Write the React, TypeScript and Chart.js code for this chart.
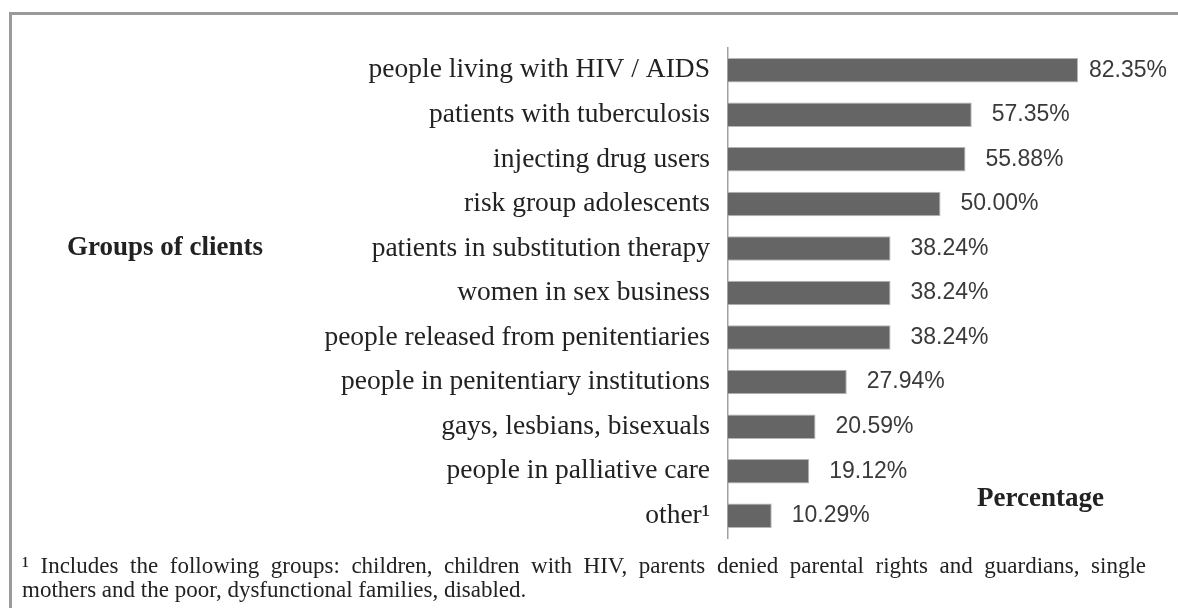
import React, { useEffect, useRef } from "react";
import { Chart, registerables } from "chart.js";

Chart.register(...registerables);

const categories = [
  "people living with HIV / AIDS",
  "patients with tuberculosis",
  "injecting drug users",
  "risk group adolescents",
  "patients in substitution therapy",
  "women in sex business",
  "people released from penitentiaries",
  "people in penitentiary institutions",
  "gays, lesbians, bisexuals",
  "people in palliative care",
  "other\u00B9",
];
const values = [82.35, 57.35, 55.88, 50.0, 38.24, 38.24, 38.24, 27.94, 20.59, 19.12, 10.29];
const yAxisTitle = "Groups of clients";
const xAxisTitle = "Percentage";
const footnoteLines = [
  "\u00B9 Includes the following groups: children, children with HIV, parents denied parental rights and guardians, single",
  "mothers and the poor, dysfunctional families, disabled.",
];

const SERIF = "'Liberation Serif', 'Times New Roman', serif";
const SANS = "'Liberation Sans', Arial, sans-serif";

function drawJustified(ctx: CanvasRenderingContext2D, text: string, x: number, y: number, width: number) {
  const words = text.split(" ");
  const total = words.reduce((s, w) => s + ctx.measureText(w).width, 0);
  const gap = (width - total) / (words.length - 1);
  let cx = x;
  words.forEach((w) => {
    ctx.fillText(w, cx, y);
    cx += ctx.measureText(w).width + gap;
  });
}

const decorPlugin = {
  id: "decor",
  beforeDraw(chart: any) {
    const ctx = chart.ctx;
    ctx.save();
    ctx.fillStyle = "#ffffff";
    ctx.fillRect(0, 0, chart.width, chart.height);
    ctx.fillStyle = "#9a9a9a";
    ctx.fillRect(9, 12, chart.width, 3);
    ctx.fillRect(9, 12, 3, chart.height);
    ctx.restore();
  },
  afterDatasetsDraw(chart: any) {
    const ctx = chart.ctx;
    ctx.save();
    // value labels
    ctx.font = `23px ${SANS}`;
    ctx.fillStyle = "#3a3a3a";
    ctx.textBaseline = "middle";
    ctx.textAlign = "left";
    const meta = chart.getDatasetMeta(0);
    meta.data.forEach((bar: any, i: number) => {
      const txt = values[i].toFixed(2) + "%";
      const w = ctx.measureText(txt).width;
      let x = bar.x + 20;
      if (x + w > chart.width - 11) x = chart.width - 11 - w;
      ctx.fillText(txt, x, bar.y);
    });
    // titles
    ctx.fillStyle = "#222222";
    ctx.textBaseline = "alphabetic";
    ctx.font = `bold 27px ${SERIF}`;
    ctx.fillText(yAxisTitle, 67, 255);
    ctx.fillText(xAxisTitle, 977, 506);
    // footnote
    ctx.font = `23px ${SERIF}`;
    drawJustified(ctx, footnoteLines[0], 22, 573, 1124);
    ctx.fillText(footnoteLines[1], 22, 597);
    ctx.restore();
  },
};

export default function App() {
  const ref = useRef<HTMLCanvasElement>(null);
  useEffect(() => {
    document.body.style.margin = "0";
    const chart = new Chart(ref.current as HTMLCanvasElement, {
      type: "bar",
      data: {
        labels: categories,
        datasets: [
          {
            data: values,
            backgroundColor: "#656565",
            borderColor: "#b5b5b5",
            borderWidth: 1,
            borderSkipped: "start",
            categoryPercentage: 1,
            barPercentage: 0.55,
          },
        ],
      },
      options: {
        indexAxis: "y",
        animation: false,
        responsive: false,
        maintainAspectRatio: false,
        layout: { padding: { left: 0, top: 48, bottom: 70, right: 25 } },
        plugins: { legend: { display: false }, tooltip: { enabled: false } },
        scales: {
          x: { display: false, min: 0, max: 100 },
          y: {
            afterFit: (s: any) => {
              s.width = 728;
            },
            grid: { display: false, drawTicks: false },
            border: { display: true, color: "#a0a0a0", width: 1.5 },
            ticks: {
              padding: 18,
              color: "#222222",
              font: { family: SERIF, size: 27.5 },
            },
          },
        },
      },
      plugins: [decorPlugin],
    });
    return () => chart.destroy();
  }, []);
  return <canvas ref={ref} width={1178} height={608} style={{ display: "block" }} />;
}
